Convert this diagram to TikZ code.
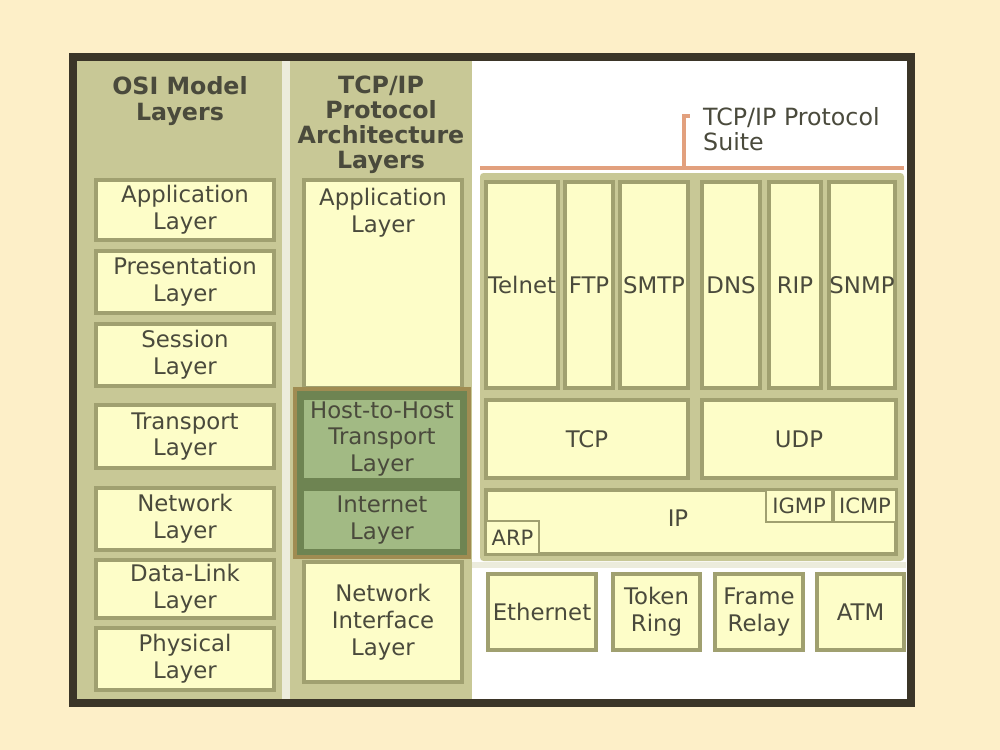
\documentclass[tikz,border=0pt]{standalone}
\usepackage{fontspec}
\setmainfont{DejaVu Sans}
\definecolor{bgc}{HTML}{FDEFC8}
\definecolor{framec}{HTML}{3B3528}
\definecolor{olive}{HTML}{C8C896}
\definecolor{sepc}{HTML}{ECECDC}
\definecolor{boxfill}{HTML}{FDFDC8}
\definecolor{boxline}{HTML}{A0A070}
\definecolor{txt}{HTML}{4A4A3C}
\definecolor{grfill}{HTML}{A2BA84}
\definecolor{grline}{HTML}{6E8452}
\definecolor{surround}{HTML}{A08C52}
\definecolor{orangeline}{HTML}{E2A07E}
\tikzset{
  lbox/.style={draw=boxline, fill=boxfill, line width=2pt, inner sep=0pt, text=txt,
    align=center, font=\fontsize{13}{15.3}\selectfont},
  sbox/.style={lbox, line width=1.3pt, font=\fontsize{12}{14}\selectfont},
  gbox/.style={lbox, draw=grline, fill=grfill},
  title/.style={text=txt, align=center, font=\bfseries\fontsize{13.5}{14.3}\selectfont},
  suite/.style={text=txt, align=left, font=\fontsize{13.5}{14}\selectfont},
  bracket/.style={draw=orangeline, line width=1.9pt}
}
% \bx[style]{name}{x1}{y1}{x2}{y2}{text}
\newcommand{\bx}[7][lbox]{\node[#1, minimum width={(#5-#3)*0.2mm}, minimum height={(#6-#4)*0.2mm}] (#2) at ({(#3+#5)/2},{(#4+#6)/2}) {#7};}
\begin{document}
\begin{tikzpicture}[x=0.02cm, y=-0.02cm]
\useasboundingbox (0,0) rectangle (1000,750);
\fill[bgc] (0,0) rectangle (1000,750);
% panels
\fill[white] (73,57) rectangle (911,703);
\fill[olive] (73,57) rectangle (282,703);
\fill[sepc] (282,57) rectangle (290,703);
\fill[olive] (290,57) rectangle (472,703);
\fill[olive, rounded corners=2pt] (480,173) rectangle (904,561);
\fill[sepc] (472,562) rectangle (906,568);
% frame
\draw[framec, line width=5.1pt] (73,57) rectangle (911,703);
% titles
\node[title] (osititle) at (180,101) {OSI Model\\Layers};
\node[title] (tcptitle) at (381,125) {TCP/IP\\Protocol\\Architecture\\Layers};
% OSI boxes
\bx{app}{96}{180}{274}{240}{Application\\Layer}
\bx{pres}{96}{251}{274}{313}{Presentation\\Layer}
\bx{sess}{96}{324}{274}{386}{Session\\Layer}
\bx{trans}{96}{405}{274}{468}{Transport\\Layer}
\bx{net}{96}{488}{274}{550}{Network\\Layer}
\bx{dl}{96}{560}{274}{618}{Data-Link\\Layer}
\bx{phys}{96}{628}{274}{690}{Physical\\Layer}
% TCP/IP layers
\bx{tapp}{304}{180}{462}{388}{}
\node[text=txt, align=center, font=\fontsize{13}{15.3}\selectfont, anchor=north] (tapptext) at (383,182) {Application\\Layer};
\node[draw=surround, fill=grline, line width=2.6pt, minimum width={(469-295)*0.2mm}, minimum height={(557-389)*0.2mm}] (surr) at (382,473) {};
\bx[gbox]{host}{302}{398}{462}{480}{Host-to-Host\\Transport\\Layer}
\bx[gbox]{inet}{302}{489}{462}{551}{Internet\\Layer}
\bx{nif}{304}{562}{462}{682}{Network\\Interface\\Layer}
% suite label and bracket
\node[suite, anchor=west] (suite) at (697,129) {TCP/IP Protocol\\Suite};
\coordinate (bl) at (480,168);
\coordinate (br) at (904,168);
\coordinate (bm) at (684,168);
\coordinate (bt) at (684,116);
\coordinate (bh) at (690,116);
\draw[bracket] (bl) -- (br);
\draw[bracket] (bm) -- (bt) -- (bh);
% application protocols
\bx{telnet}{486}{182}{558}{388}{Telnet}
\bx{ftp}{565}{182}{613}{388}{FTP}
\bx{smtp}{620}{182}{688}{388}{SMTP}
\bx{dns}{702}{182}{760}{388}{DNS}
\bx{rip}{769}{182}{821}{388}{RIP}
\bx{snmp}{829}{182}{895}{388}{SNMP}
% transport
\bx{tcp}{486}{400}{688}{478}{TCP}
\bx{udp}{702}{400}{896}{478}{UDP}
% internet
\bx{ip}{486}{490}{896}{554}{}
\node[text=txt, font=\fontsize{13}{15.3}\selectfont] (iptext) at (678,518) {IP};
\bx[sbox]{igmp}{766}{490}{832}{522}{IGMP}
\bx[sbox]{icmp}{834}{490}{896}{522}{ICMP}
\bx[sbox]{arp}{486}{521}{539}{554}{ARP}
% network interface
\bx{eth}{488}{574}{596}{650}{Ethernet}
\bx{tok}{613}{574}{700}{650}{Token\\Ring}
\bx{fr}{715}{574}{803}{650}{Frame\\Relay}
\bx{atm}{817}{574}{904}{650}{ATM}
\end{tikzpicture}
\end{document}
